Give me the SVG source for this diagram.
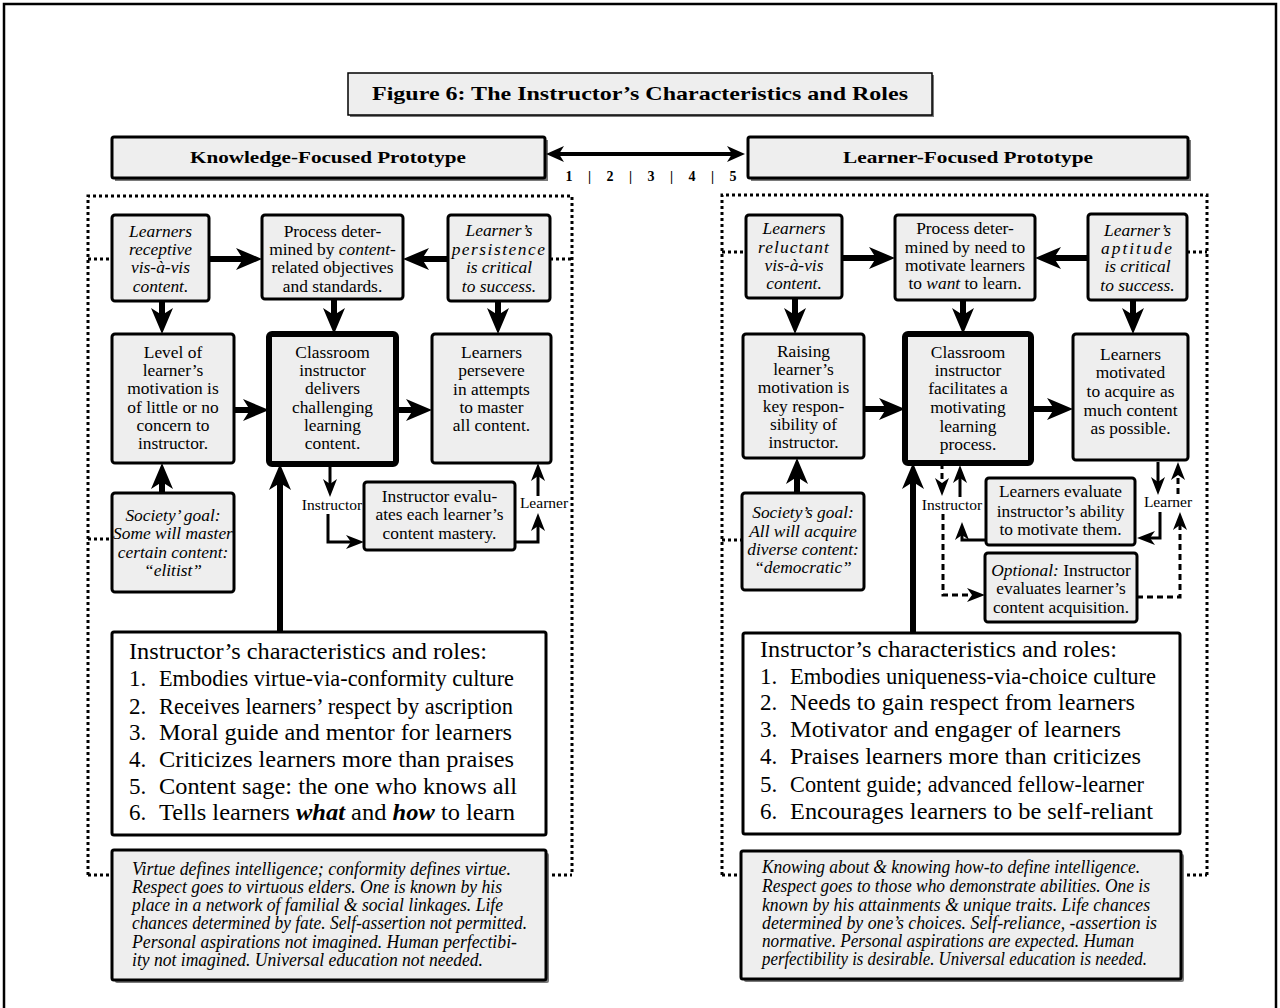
<svg xmlns="http://www.w3.org/2000/svg" width="1280" height="1008" viewBox="0 0 1280 1008">
<defs>
<style>
.box{fill:#eeeeee;stroke:#000;stroke-width:3}
.thick{stroke-width:6}
.wbox{fill:#fff;stroke:#000;stroke-width:3}
.sh{fill:#7a7a7a}
.t{font-family:"Liberation Serif","Times New Roman",serif;font-size:17.4px;text-anchor:middle;fill:#000}
.lb{font-family:"Liberation Serif","Times New Roman",serif;font-size:15.5px;text-anchor:middle;fill:#000}
.lst{font-family:"Liberation Serif","Times New Roman",serif;font-size:23px;fill:#000}
.it{font-family:"Liberation Serif","Times New Roman",serif;font-size:18px;font-style:italic;fill:#000}
.hd{font-family:"Liberation Serif","Times New Roman",serif;font-weight:bold;text-anchor:middle;fill:#000}
.i{font-style:italic}
.c6{stroke:#000;stroke-width:6;fill:none}
.c3{stroke:#000;stroke-width:3;fill:none}
.dash{stroke-dasharray:6 4}
.dot{stroke:#000;stroke-width:3;stroke-dasharray:3 3;fill:none}
</style>
<marker id="big" viewBox="0 0 26 22" markerWidth="26" markerHeight="22" refX="8" refY="11" markerUnits="userSpaceOnUse" orient="auto"><path d="M0,0 L26,11 L0,22 L7,11 Z" fill="#000"/></marker>
<marker id="sm" viewBox="0 0 18 14" markerWidth="18" markerHeight="14" refX="6" refY="7" markerUnits="userSpaceOnUse" orient="auto"><path d="M0,0 L18,7 L0,14 L5,7 Z" fill="#000"/></marker>
<marker id="dh" viewBox="0 0 18 16" markerWidth="18" markerHeight="16" refX="6" refY="8" markerUnits="userSpaceOnUse" orient="auto-start-reverse"><path d="M0,0 L18,8 L0,16 L5,8 Z" fill="#000"/></marker>
</defs>

<rect x="4" y="4" width="1272" height="1030" fill="#fff" stroke="#000" stroke-width="2.5"/>

<g id="title">
<rect class="sh" x="350" y="75" width="584" height="42"/>
<rect x="348" y="73" width="584" height="42" fill="#eeeeee" stroke="#000" stroke-width="1.5"/>
<text class="hd" x="640" y="100" font-size="19" textLength="536" lengthAdjust="spacingAndGlyphs">Figure 6: The Instructor’s Characteristics and Roles</text>
</g>

<g id="hdr-left">
<rect class="sh" x="115" y="140" width="433" height="41"/>
<rect class="box" x="112" y="137" width="433" height="41" rx="2"/>
<text class="hd" x="328" y="163" font-size="17" textLength="276" lengthAdjust="spacingAndGlyphs">Knowledge-Focused Prototype</text>
</g>
<g id="hdr-right">
<rect class="sh" x="751" y="140" width="440" height="41"/>
<rect class="box" x="748" y="137" width="440" height="41" rx="2"/>
<text class="hd" x="968" y="163" font-size="17" textLength="250" lengthAdjust="spacingAndGlyphs">Learner-Focused Prototype</text>
</g>
<g id="scale">
<text class="hd" x="651" y="181" font-size="14" xml:space="preserve" textLength="171" lengthAdjust="spacing">1  |  2  |  3  |  4  |  5</text>
</g>

<g id="regions">
<path class="dot" d="M88,875 V196 H572 V875"/>
<path class="dot" d="M88,259 H112 M550,259 H572 M88,539 H112 M88,875 H112 M546,875 H572"/>
<path class="dot" d="M722,875 V195 H1207 V875"/>
<path class="dot" d="M722,252 H746 M1187,252 H1207 M722,540 H742 M722,875 H741 M1181,875 H1207"/>
</g>

<g id="connectors">
<line x1="558" y1="154" x2="733" y2="154" stroke="#000" stroke-width="4" marker-start="url(#dh)" marker-end="url(#dh)"/>
<line class="c6" x1="209" y1="259" x2="244" y2="259" marker-end="url(#big)"/>
<line class="c6" x1="448" y1="259" x2="421" y2="259" marker-end="url(#big)"/>
<line class="c6" x1="162" y1="301" x2="162" y2="316" marker-end="url(#big)"/>
<line class="c6" x1="334" y1="299" x2="334" y2="316" marker-end="url(#big)"/>
<line class="c6" x1="498" y1="301" x2="498" y2="316" marker-end="url(#big)"/>
<line class="c6" x1="234" y1="410" x2="251" y2="410" marker-end="url(#big)"/>
<line class="c6" x1="396" y1="410" x2="414" y2="410" marker-end="url(#big)"/>
<line class="c6" x1="162" y1="493" x2="162" y2="481" marker-end="url(#big)"/>
<line class="c6" x1="280" y1="632" x2="280" y2="482" marker-end="url(#big)"/>
<line class="c3" x1="330" y1="464" x2="330" y2="485" marker-end="url(#sm)"/>
<path class="c3" d="M328,514 V542 H352" marker-end="url(#sm)"/>
<path class="c3" d="M515,542 H538 V525" marker-end="url(#sm)"/>
<path class="c3" d="M538,496 V475" marker-end="url(#sm)"/>
<line class="c6" x1="842" y1="258" x2="877" y2="258" marker-end="url(#big)"/>
<line class="c6" x1="1088" y1="258" x2="1053" y2="258" marker-end="url(#big)"/>
<line class="c6" x1="795" y1="298" x2="795" y2="316" marker-end="url(#big)"/>
<line class="c6" x1="963" y1="300" x2="963" y2="316" marker-end="url(#big)"/>
<line class="c6" x1="1133" y1="300" x2="1133" y2="316" marker-end="url(#big)"/>
<line class="c6" x1="864" y1="409" x2="887" y2="409" marker-end="url(#big)"/>
<line class="c6" x1="1031" y1="409" x2="1055" y2="409" marker-end="url(#big)"/>
<line class="c6" x1="797" y1="493" x2="797" y2="476" marker-end="url(#big)"/>
<line class="c6" x1="913" y1="633" x2="913" y2="481" marker-end="url(#big)"/>
<line class="c3 dash" x1="942" y1="463" x2="942" y2="484" marker-end="url(#sm)"/>
<line class="c3" x1="960" y1="497" x2="960" y2="477" marker-end="url(#sm)"/>
<path class="c3" d="M986,540 H962 V534" marker-end="url(#sm)"/>
<path class="c3 dash" d="M943,514 V595 H973" marker-end="url(#sm)"/>
<line class="c3" x1="1158" y1="462" x2="1158" y2="483" marker-end="url(#sm)"/>
<line class="c3 dash" x1="1178" y1="494" x2="1178" y2="474" marker-end="url(#sm)"/>
<path class="c3" d="M1160,512 V538 H1149" marker-end="url(#sm)"/>
<path class="c3 dash" d="M1137,597 H1180 V524" marker-end="url(#sm)"/>
</g>

<g id="L-receptive">
<rect class="box" x="112" y="215" width="97" height="86" rx="3"/>
<text class="t i"><tspan x="160.5" y="237">Learners</tspan><tspan x="160.5" y="255">receptive</tspan><tspan x="160.5" y="273">vis-à-vis</tspan><tspan x="160.5" y="292">content.</tspan></text>
</g>
<g id="L-process">
<rect class="box" x="262" y="215" width="141" height="84" rx="3"/>
<text class="t"><tspan x="332.5" y="237">Process deter-</tspan><tspan x="332.5" y="255">mined by <tspan class="i">content-</tspan></tspan><tspan x="332.5" y="273">related objectives</tspan><tspan x="332.5" y="292">and standards.</tspan></text>
</g>
<g id="L-persistence">
<rect class="box" x="448" y="215" width="102" height="86" rx="3"/>
<text class="t i"><tspan x="499" y="236">Learner’s</tspan><tspan x="499" y="255" letter-spacing="1.5">persistence</tspan><tspan x="499" y="273">is critical</tspan><tspan x="499" y="292">to success.</tspan></text>
</g>
<g id="L-level">
<rect class="box" x="112" y="334" width="122" height="129" rx="3"/>
<text class="t"><tspan x="173" y="358">Level of</tspan><tspan x="173" y="376">learner’s</tspan><tspan x="173" y="394">motivation is</tspan><tspan x="173" y="413">of little or no</tspan><tspan x="173" y="431">concern to</tspan><tspan x="173" y="449">instructor.</tspan></text>
</g>
<g id="L-classroom">
<rect class="box thick" x="269" y="334" width="127" height="130" rx="3"/>
<text class="t"><tspan x="332.5" y="358">Classroom</tspan><tspan x="332.5" y="376">instructor</tspan><tspan x="332.5" y="394">delivers</tspan><tspan x="332.5" y="413">challenging</tspan><tspan x="332.5" y="431">learning</tspan><tspan x="332.5" y="449">content.</tspan></text>
</g>
<g id="L-persevere">
<rect class="box" x="432" y="334" width="119" height="129" rx="3"/>
<text class="t"><tspan x="491.5" y="358">Learners</tspan><tspan x="491.5" y="376">persevere</tspan><tspan x="491.5" y="395">in attempts</tspan><tspan x="491.5" y="413">to master</tspan><tspan x="491.5" y="431">all content.</tspan></text>
</g>
<g id="L-society">
<rect class="box" x="112" y="493" width="122" height="99" rx="3"/>
<text class="t i"><tspan x="173" y="521">Society’ goal:</tspan><tspan x="173" y="539">Some will master</tspan><tspan x="173" y="558">certain content:</tspan><tspan x="173" y="576">“elitist”</tspan></text>
</g>
<g id="L-eval">
<rect class="box" x="364" y="482" width="151" height="68" rx="3"/>
<text class="t"><tspan x="439.5" y="502">Instructor evalu-</tspan><tspan x="439.5" y="520">ates each learner’s</tspan><tspan x="439.5" y="539">content mastery.</tspan></text>
</g>
<g id="L-labels">
<text class="lb" x="332" y="510">Instructor</text>
<text class="lb" x="544" y="508">Learner</text>
</g>
<g id="L-roles">
<rect class="wbox" x="112" y="632" width="434" height="203" rx="2"/>
<text class="lst" x="129" y="659" textLength="358" lengthAdjust="spacingAndGlyphs">Instructor’s characteristics and roles:</text>
<text class="lst"><tspan x="129" y="686">1.</tspan><tspan x="159" y="686" textLength="355" lengthAdjust="spacingAndGlyphs">Embodies virtue-via-conformity culture</tspan></text>
<text class="lst"><tspan x="129" y="714">2.</tspan><tspan x="159" y="714" textLength="354" lengthAdjust="spacingAndGlyphs">Receives learners’ respect by ascription</tspan></text>
<text class="lst"><tspan x="129" y="740">3.</tspan><tspan x="159" y="740" textLength="353" lengthAdjust="spacingAndGlyphs">Moral guide and mentor for learners</tspan></text>
<text class="lst"><tspan x="129" y="767">4.</tspan><tspan x="159" y="767" textLength="355" lengthAdjust="spacingAndGlyphs">Criticizes learners more than praises</tspan></text>
<text class="lst"><tspan x="129" y="794">5.</tspan><tspan x="159" y="794" textLength="358" lengthAdjust="spacingAndGlyphs">Content sage: the one who knows all</tspan></text>
<text class="lst"><tspan x="129" y="820">6.</tspan><tspan x="159" y="820" textLength="356" lengthAdjust="spacingAndGlyphs">Tells learners <tspan font-weight="bold" font-style="italic">what</tspan> and <tspan font-weight="bold" font-style="italic">how</tspan> to learn</tspan></text>
</g>
<g id="L-culture">
<rect class="sh" x="115" y="853" width="434" height="130" rx="2"/>
<rect class="box" x="112" y="850" width="434" height="130" rx="2" stroke-width="4"/>
<text class="it"><tspan x="132" y="875" textLength="379" lengthAdjust="spacingAndGlyphs">Virtue defines intelligence; conformity defines virtue.</tspan><tspan x="132" y="893" textLength="370" lengthAdjust="spacingAndGlyphs">Respect goes to virtuous elders. One is known by his</tspan><tspan x="132" y="911" textLength="371" lengthAdjust="spacingAndGlyphs">place in a network of familial &amp; social linkages. Life</tspan><tspan x="132" y="929" textLength="395" lengthAdjust="spacingAndGlyphs">chances determined by fate. Self-assertion not permitted.</tspan><tspan x="132" y="948" textLength="385" lengthAdjust="spacingAndGlyphs">Personal aspirations not imagined. Human perfectibi-</tspan><tspan x="132" y="966" textLength="351" lengthAdjust="spacingAndGlyphs">ity not imagined. Universal education not needed.</tspan></text>
</g>

<g id="R-reluctant">
<rect class="box" x="746" y="215" width="96" height="83" rx="3"/>
<text class="t i"><tspan x="794" y="234">Learners</tspan><tspan x="794" y="253" letter-spacing="1.1">reluctant</tspan><tspan x="794" y="271">vis-à-vis</tspan><tspan x="794" y="289">content.</tspan></text>
</g>
<g id="R-process">
<rect class="box" x="895" y="215" width="140" height="85" rx="3"/>
<text class="t"><tspan x="965" y="234">Process deter-</tspan><tspan x="965" y="253">mined by need to</tspan><tspan x="965" y="271">motivate learners</tspan><tspan x="965" y="289">to <tspan class="i">want</tspan> to learn.</tspan></text>
</g>
<g id="R-aptitude">
<rect class="box" x="1088" y="214" width="99" height="86" rx="3"/>
<text class="t i"><tspan x="1137.5" y="236">Learner’s</tspan><tspan x="1137.5" y="254" letter-spacing="2">aptitude</tspan><tspan x="1137.5" y="272">is critical</tspan><tspan x="1137.5" y="291">to success.</tspan></text>
</g>
<g id="R-raising">
<rect class="box" x="743" y="334" width="121" height="124" rx="3"/>
<text class="t"><tspan x="803.5" y="357">Raising</tspan><tspan x="803.5" y="375">learner’s</tspan><tspan x="803.5" y="393">motivation is</tspan><tspan x="803.5" y="412">key respon-</tspan><tspan x="803.5" y="430">sibility of</tspan><tspan x="803.5" y="448">instructor.</tspan></text>
</g>
<g id="R-classroom">
<rect class="box thick" x="905" y="334" width="126" height="129" rx="3"/>
<text class="t"><tspan x="968" y="358">Classroom</tspan><tspan x="968" y="376">instructor</tspan><tspan x="968" y="394">facilitates a</tspan><tspan x="968" y="413">motivating</tspan><tspan x="968" y="432">learning</tspan><tspan x="968" y="450">process.</tspan></text>
</g>
<g id="R-motivated">
<rect class="box" x="1073" y="334" width="115" height="126" rx="3"/>
<text class="t"><tspan x="1130.5" y="360">Learners</tspan><tspan x="1130.5" y="378">motivated</tspan><tspan x="1130.5" y="397">to acquire as</tspan><tspan x="1130.5" y="416">much content</tspan><tspan x="1130.5" y="434">as possible.</tspan></text>
</g>
<g id="R-society">
<rect class="box" x="742" y="493" width="122" height="97" rx="3"/>
<text class="t i"><tspan x="803" y="518">Society’s goal:</tspan><tspan x="803" y="537">All will acquire</tspan><tspan x="803" y="555">diverse content:</tspan><tspan x="803" y="573">“democratic”</tspan></text>
</g>
<g id="R-eval">
<rect class="box" x="986" y="478" width="149" height="67" rx="3"/>
<text class="t"><tspan x="1060.5" y="497">Learners evaluate</tspan><tspan x="1060.5" y="517">instructor’s ability</tspan><tspan x="1060.5" y="535">to motivate them.</tspan></text>
</g>
<g id="R-optional">
<rect class="box" x="985" y="553" width="152" height="69" rx="3"/>
<text class="t"><tspan x="1061" y="576"><tspan class="i">Optional:</tspan> Instructor</tspan><tspan x="1061" y="594">evaluates learner’s</tspan><tspan x="1061" y="613">content acquisition.</tspan></text>
</g>
<g id="R-labels">
<text class="lb" x="952" y="510">Instructor</text>
<text class="lb" x="1168" y="507">Learner</text>
</g>
<g id="R-roles">
<rect class="wbox" x="743" y="633" width="437" height="201" rx="2"/>
<text class="lst" x="760" y="657" textLength="357" lengthAdjust="spacingAndGlyphs">Instructor’s characteristics and roles:</text>
<text class="lst"><tspan x="760" y="684">1.</tspan><tspan x="790" y="684" textLength="366" lengthAdjust="spacingAndGlyphs">Embodies uniqueness-via-choice culture</tspan></text>
<text class="lst"><tspan x="760" y="710">2.</tspan><tspan x="790" y="710" textLength="345" lengthAdjust="spacingAndGlyphs">Needs to gain respect from learners</tspan></text>
<text class="lst"><tspan x="760" y="737">3.</tspan><tspan x="790" y="737" textLength="331" lengthAdjust="spacingAndGlyphs">Motivator and engager of learners</tspan></text>
<text class="lst"><tspan x="760" y="764">4.</tspan><tspan x="790" y="764" textLength="351" lengthAdjust="spacingAndGlyphs">Praises learners more than criticizes</tspan></text>
<text class="lst"><tspan x="760" y="792">5.</tspan><tspan x="790" y="792" textLength="354" lengthAdjust="spacingAndGlyphs">Content guide; advanced fellow-learner</tspan></text>
<text class="lst"><tspan x="760" y="819">6.</tspan><tspan x="790" y="819" textLength="363" lengthAdjust="spacingAndGlyphs">Encourages learners to be self-reliant</tspan></text>
</g>
<g id="R-culture">
<rect class="sh" x="744" y="854" width="440" height="128" rx="2"/>
<rect class="box" x="741" y="851" width="440" height="128" rx="2" stroke-width="4"/>
<text class="it"><tspan x="762" y="873" textLength="378" lengthAdjust="spacingAndGlyphs">Knowing about &amp; knowing how-to define intelligence.</tspan><tspan x="762" y="892" textLength="388" lengthAdjust="spacingAndGlyphs">Respect goes to those who demonstrate abilities. One is</tspan><tspan x="762" y="911" textLength="388" lengthAdjust="spacingAndGlyphs">known by his attainments &amp; unique traits. Life chances</tspan><tspan x="762" y="929" textLength="395" lengthAdjust="spacingAndGlyphs">determined by one’s choices. Self-reliance, -assertion is</tspan><tspan x="762" y="947" textLength="372" lengthAdjust="spacingAndGlyphs">normative. Personal aspirations are expected. Human</tspan><tspan x="762" y="965" textLength="385" lengthAdjust="spacingAndGlyphs">perfectibility is desirable. Universal education is needed.</tspan></text>
</g>
</svg>
